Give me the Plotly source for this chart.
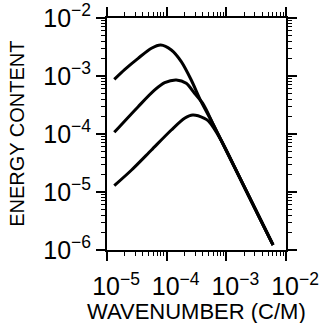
import plotly.graph_objects as go

# Curve values (wavenumber in c/m, energy content)
k1 = [1.324e-5, 1.995e-5, 3.327e-5, 5.559e-5, 7.943e-5, 1.197e-4, 1.758e-4,
      2.582e-4, 3.784e-4, 5.916e-4, 8.26e-4, 1.892e-3, 6.067e-3]
e1 = [8.77e-4, 1.306e-3, 2.018e-3, 3.006e-3, 3.420e-3, 2.805e-3, 1.766e-3,
      8.53e-4, 3.606e-4, 1.528e-4, 7.66e-5, 1.374e-5, 1.219e-6]

k2 = [1.324e-5, 3.327e-5, 6.31e-5, 9.27e-5, 1.452e-4, 2.128e-4, 2.931e-4,
      4.14e-4, 5.916e-4, 8.26e-4, 1.892e-3, 6.067e-3]
e2 = [1.069e-4, 2.958e-4, 5.741e-4, 7.656e-4, 8.53e-4, 7.48e-4, 5.035e-4,
      3.228e-4, 1.528e-4, 7.66e-5, 1.374e-5, 1.219e-6]

k3 = [1.324e-5, 2.582e-5, 5.559e-5, 1.197e-4, 1.995e-4, 2.742e-4, 4.295e-4,
      5.01e-4, 8.26e-4, 1.892e-3, 6.067e-3]
e3 = [1.285e-5, 2.393e-5, 5.297e-5, 1.172e-4, 1.866e-4, 2.128e-4, 1.866e-4,
      1.675e-4, 7.66e-5, 1.374e-5, 1.219e-6]

x_tickvals = [1e-5, 1e-4, 1e-3, 1e-2]
x_ticktext = ["10<sup>\u22125</sup>", "10<sup>\u22124</sup>", "10<sup>\u22123</sup>", "10<sup>\u22122</sup>"]
y_tickvals = [1e-6, 1e-5, 1e-4, 1e-3, 1e-2]
y_ticktext = ["10<sup>\u22126</sup>", "10<sup>\u22125</sup>", "10<sup>\u22124</sup>",
              "10<sup>\u22123</sup>", "10<sup>\u22122</sup>"]

x_title = "WAVENUMBER (C/M)"
y_title = "ENERGY CONTENT"

FONT = "Liberation Sans"
TICKFONT = dict(family=FONT, size=25, color="black")

fig = go.Figure()
for k, e in [(k1, e1), (k2, e2), (k3, e3)]:
    fig.add_trace(go.Scatter(
        x=k, y=e, mode="lines",
        line=dict(color="black", width=3, shape="spline", smoothing=0.8),
        showlegend=False, hoverinfo="skip",
    ))

common = dict(
    type="log", showline=True, linecolor="black", linewidth=2,
    mirror="allticks", ticks="outside", ticklen=9, tickwidth=1.5,
    tickcolor="black", showgrid=False, zeroline=False,
    minor=dict(ticks="outside", ticklen=4, tickwidth=1, tickcolor="black",
               dtick="D1", showgrid=False),
)

fig.update_xaxes(
    **common, range=[-5, -2], tickmode="array",
    tickvals=x_tickvals, ticktext=x_ticktext, ticklabelshift=9,
    ticklabelstandoff=4, tickfont=TICKFONT,
)
fig.update_yaxes(
    **common, range=[-6, -2], tickmode="array",
    tickvals=y_tickvals, ticktext=y_ticktext,
    tickfont=TICKFONT,
)

fig.add_annotation(
    text=x_title, xref="paper", yref="paper", x=0.5, y=-0.266,
    xanchor="center", yanchor="middle", showarrow=False,
    font=dict(family=FONT, size=22, color="black"),
)
fig.add_annotation(
    text=y_title, xref="paper", yref="paper", x=-0.504, y=0.5,
    xanchor="center", yanchor="middle", showarrow=False, textangle=-90,
    font=dict(family=FONT, size=20, color="black"),
)

fig.update_layout(
    width=325, height=323,
    font=dict(family=FONT, color="black"),
    margin=dict(l=107, r=39, t=18, b=73, autoexpand=False),
    paper_bgcolor="white", plot_bgcolor="white",
)

fig.write_html("out.html")
